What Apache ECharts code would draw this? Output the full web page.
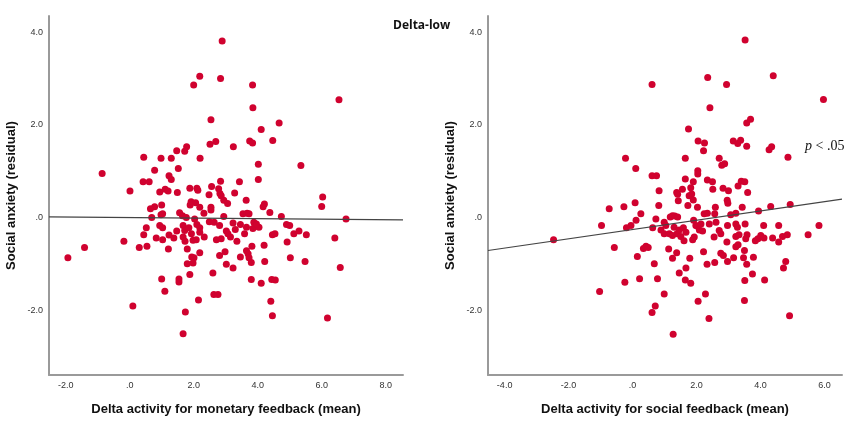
<!DOCTYPE html>
<html>
<head>
<meta charset="utf-8">
<script src="https://cdn.jsdelivr.net/npm/echarts@6/dist/echarts.min.js"></script>
<style>html,body{margin:0;padding:0;background:#fff}#c{width:850px;height:421px}</style>
</head>
<body>
<div id="c"></div>
<script>
const chartTitle = 'Delta-low';
const yAxisName = 'Social anxiety (residual)';
const xNameMonetary = 'Delta activity for monetary feedback (mean)';
const xNameSocial = 'Delta activity for social feedback (mean)';
const xTicksMonetary = [-2, 0, 2, 4, 6, 8];
const xTicksSocial = [-4, -2, 0, 2, 4, 6];
const yTicks = [-2, 0, 2, 4];
const xRangeMonetary = [-2.52, 8.54];
const xRangeSocial = [-4.52, 6.55];
const yRange = [-3.4, 4.35];
// fit lines: [intercept, slope]
const fitMonetary = [0.0, -0.006];
const fitSocial = [-0.26, 0.10];
const pLabel = '< .05';

const monetaryPoints = [
[2.89,3.81],[2.19,3.05],[2.0,2.86],[2.84,3.0],[3.84,2.86],[6.54,2.54],[3.85,2.37],[2.54,2.11],[4.67,2.04],[4.11,1.90],
[2.51,1.58],[2.69,1.64],[3.75,1.65],[3.84,1.61],[4.47,1.66],[3.24,1.53],[1.78,1.53],[1.72,1.43],[1.47,1.44],[0.44,1.30],
[0.98,1.28],[1.30,1.28],[2.20,1.28],[4.02,1.15],[5.35,1.12],[0.78,1.02],[1.52,1.06],[-0.86,0.95],[1.23,0.90],[1.30,0.82],
[0.42,0.77],[0.61,0.77],[2.84,0.78],[3.43,0.77],[4.02,0.82],[2.56,0.67],[1.88,0.63],[2.10,0.63],[2.13,0.59],[2.78,0.62],
[0.01,0.57],[0.94,0.55],[1.11,0.61],[1.20,0.57],[1.49,0.54],[3.28,0.53],[2.82,0.52],[2.86,0.47],[2.48,0.49],[6.03,0.44],
[3.64,0.37],[2.94,0.37],[3.06,0.30],[1.92,0.34],[2.06,0.32],[1.89,0.27],[2.19,0.22],[2.54,0.22],[4.21,0.29],[4.17,0.23],
[1.0,0.27],[0.78,0.23],[0.65,0.19],[6.0,0.24],
[2.54,0.16],[0.69,0.0],[0.98,0.06],[1.03,0.08],[1.56,0.10],[1.65,0.04],[1.77,0.0],[2.03,-0.03],[2.32,0.09],[2.49,-0.09],
[2.64,-0.10],[2.94,0.02],[3.23,-0.12],[3.46,-0.15],[3.54,0.08],[3.67,0.09],[3.73,0.08],[4.38,0.11],[4.74,0.02],[6.76,-0.03],
[0.52,-0.22],[0.44,-0.37],[0.94,-0.17],[1.03,-0.22],[0.83,-0.44],[1.03,-0.48],[1.23,-0.38],[1.38,-0.44],[1.47,-0.29],[1.67,-0.17],
[1.72,-0.28],[1.67,-0.42],[1.73,-0.51],[1.85,-0.22],[1.93,-0.35],[1.98,-0.49],[2.1,-0.15],[2.19,-0.22],[2.19,-0.32],[2.08,-0.48],
[2.33,-0.42],[2.71,-0.48],[2.81,-0.17],[2.86,-0.46],[3.02,-0.29],[3.07,-0.35],[3.15,-0.42],[3.35,-0.51],[3.30,-0.26],[3.59,-0.35],
[3.65,-0.21],[3.85,-0.24],[3.94,-0.19],[4.04,-0.21],[3.88,-0.10],[3.96,-0.14],[3.82,-0.62],[4.2,-0.6],[4.46,-0.37],[4.54,-0.35],
[4.9,-0.15],[5.0,-0.17],[4.92,-0.53],[5.13,-0.35],[5.29,-0.29],[5.52,-0.37],[6.41,-0.44],[-0.18,-0.51],[-1.41,-0.65],[-1.93,-0.87],
[0.30,-0.65],[0.54,-0.62],[1.21,-0.68],[1.80,-0.68],[2.19,-0.76],[2.81,-0.82],[2.98,-0.74],[1.94,-0.85],[2.01,-0.87],[1.80,-1.0],
[1.98,-0.98],[3.02,-1.01],[3.23,-1.09],[3.46,-0.85],[3.65,-0.72],[3.7,-0.78],[3.73,-0.87],[3.80,-0.97],[4.22,-0.95],[5.02,-0.87],
[5.48,-0.95],[6.58,-1.08],[1.0,-1.33],[1.1,-1.59],[1.54,-1.33],[1.54,-1.39],[1.88,-1.23],[2.60,-1.20],[2.63,-1.66],[2.76,-1.66],
[3.80,-1.34],[4.11,-1.42],[4.44,-1.34],[4.55,-1.35],[0.10,-1.91],[2.15,-1.78],[4.41,-1.81],[1.74,-2.04],[4.46,-2.12],[6.18,-2.17],
[1.67,-2.51]
];

const socialPoints = [
[3.52,3.83],[2.35,3.02],[2.94,2.87],[4.40,3.06],[0.61,2.87],[5.97,2.55],[2.42,2.37],[3.57,2.04],[3.69,2.12],[1.75,1.91],
[2.05,1.65],[2.25,1.61],[2.22,1.44],[3.15,1.65],[3.29,1.60],[3.38,1.67],[3.57,1.54],[4.27,1.46],[4.35,1.53],[4.86,1.30],
[-0.22,1.28],[0.10,1.06],[1.65,1.28],[2.71,1.28],[2.79,1.13],[2.88,1.16],[0.61,0.90],[0.75,0.90],[2.04,1.01],[2.04,0.94],
[1.65,0.83],[1.90,0.77],[2.34,0.81],[2.5,0.77],[3.40,0.78],[3.51,0.77],[0.83,0.58],[1.38,0.54],[1.41,0.50],[1.56,0.61],
[1.82,0.64],[1.77,0.47],[1.85,0.51],[2.51,0.61],[2.83,0.63],[3.0,0.58],[3.30,0.68],[3.60,0.54],[1.90,0.38],[1.43,0.36],
[2.96,0.37],[2.98,0.31],[-0.73,0.19],[-0.27,0.23],[0.08,0.32],[0.82,0.26],[1.73,0.26],[2.03,0.22],[2.59,0.22],[3.43,0.22],
[4.32,0.24],[4.93,0.28],
[-0.97,-0.17],[0.26,0.08],[0.11,-0.06],[-0.05,-0.17],[-0.19,-0.22],[0.73,-0.03],[-2.47,-0.48],[-0.57,-0.65],[0.34,-0.67],[0.42,-0.62],
[0.49,-0.65],[0.63,-0.22],[0.89,-0.27],[0.99,-0.10],[1.04,-0.17],[0.99,-0.35],[1.18,0.01],[1.25,0.04],[1.32,0.03],[1.41,0.01],
[1.15,-0.35],[1.25,-0.39],[1.39,-0.35],[1.51,-0.41],[1.61,-0.50],[1.30,-0.21],[1.46,-0.27],[1.59,-0.22],[1.67,-0.32],[1.91,-0.06],
[1.98,-0.17],[1.93,-0.42],[1.88,-0.48],[2.03,-0.19],[2.09,-0.27],[2.14,-0.14],[2.19,-0.29],[2.24,0.08],[2.34,0.09],[2.40,-0.14],
[2.57,0.08],[2.61,-0.10],[2.55,-0.42],[2.71,-0.28],[2.76,-0.35],[2.95,-0.53],[2.97,-0.17],[3.07,0.06],[3.23,0.09],[3.23,-0.14],
[3.28,-0.21],[3.23,-0.41],[3.33,-0.37],[3.23,-0.63],[3.30,-0.59],[3.52,-0.14],[3.58,-0.37],[3.54,-0.46],[3.84,-0.50],[3.92,-0.46],
[3.94,0.14],[4.01,-0.39],[4.11,-0.44],[4.10,-0.17],[4.38,-0.44],[4.57,-0.17],[4.57,-0.53],[4.69,-0.41],[4.84,-0.37],[5.49,-0.37],
[5.83,-0.17],[0.15,-0.84],[1.13,-0.68],[1.38,-0.76],[2.22,-0.74],[0.68,-1.0],[1.25,-0.88],[1.79,-0.88],[2.33,-1.01],[2.57,-0.97],
[2.76,-0.77],[2.84,-0.82],[2.97,-0.95],[3.16,-0.87],[3.47,-0.87],[3.57,-1.01],[3.78,-0.86],[3.50,-0.71],[4.79,-0.95],[4.72,-1.09],
[1.46,-1.20],[1.67,-1.09],[3.75,-1.22],[-0.24,-1.40],[0.22,-1.32],[0.78,-1.32],[1.65,-1.35],[1.82,-1.42],[3.51,-1.36],[4.13,-1.35],
[-1.03,-1.60],[0.99,-1.65],[2.28,-1.65],[2.05,-1.81],[3.50,-1.79],[0.71,-1.91],[0.61,-2.05],[2.39,-2.18],[4.91,-2.12],[1.27,-2.52]
];

function fmt(v){ return v === 0 ? '.0' : v.toFixed(1); }
function fitEnds(fit, range){ return range.map(x => [x, fit[0] + fit[1]*x]); }

const dotColor = '#d0022f';
const axisLineStyle = { color: '#9a9a9a', width: 2 };
const tickLabel = { color: '#333', fontSize: 9, fontFamily: 'Liberation Sans, Arial, sans-serif' };
const nameStyle = { color: '#111', fontSize: 13, fontWeight: 'bold', fontFamily: 'Liberation Sans, Arial, sans-serif' };

function xAxis(idx, range, ticks, name){
  return {
    type: 'value', gridIndex: idx, min: range[0], max: range[1],
    name: name, nameLocation: 'middle', nameGap: 28, nameTextStyle: nameStyle,
    axisLine: { show: true, onZero: false, lineStyle: axisLineStyle },
    axisTick: { show: false },
    splitLine: { show: false },
    axisLabel: Object.assign({ customValues: ticks, formatter: fmt, margin: 6 }, tickLabel)
  };
}
function yAxis(idx){
  return {
    type: 'value', gridIndex: idx, min: yRange[0], max: yRange[1],
    name: yAxisName, nameLocation: 'middle', nameGap: 31, nameTextStyle: nameStyle,
    axisLine: { show: true, onZero: false, lineStyle: axisLineStyle },
    axisTick: { show: false },
    splitLine: { show: false },
    axisLabel: Object.assign({ customValues: yTicks, formatter: fmt, margin: 6 }, tickLabel)
  };
}

const chart = echarts.init(document.getElementById('c'), null, { renderer: 'canvas' });
chart.setOption({
  backgroundColor: '#fff',
  animation: false,
  grid: [
    { left: 49, top: 16, width: 354, height: 359 },
    { left: 488, top: 16, width: 354, height: 359 }
  ],
  xAxis: [ xAxis(0, xRangeMonetary, xTicksMonetary, xNameMonetary), xAxis(1, xRangeSocial, xTicksSocial, xNameSocial) ],
  yAxis: [ yAxis(0), yAxis(1) ],
  series: [
    { type: 'scatter', xAxisIndex: 0, yAxisIndex: 0, data: monetaryPoints, symbolSize: 7, itemStyle: { color: dotColor, opacity: 1 }, z: 2 },
    { type: 'scatter', xAxisIndex: 1, yAxisIndex: 1, data: socialPoints, symbolSize: 7, itemStyle: { color: dotColor, opacity: 1 }, z: 2 },
    { type: 'line', xAxisIndex: 0, yAxisIndex: 0, data: fitEnds(fitMonetary, xRangeMonetary), symbol: 'none', lineStyle: { color: '#444', width: 1.2 }, z: 3 },
    { type: 'line', xAxisIndex: 1, yAxisIndex: 1, data: fitEnds(fitSocial, xRangeSocial), symbol: 'none', lineStyle: { color: '#444', width: 1.2 }, z: 3 }
  ],
  graphic: [
    { type: 'text', left: 393, top: 20, style: { text: chartTitle, font: 'bold 12px "Open Sans", "Liberation Sans", sans-serif', fill: '#111' } },
    { type: 'text', left: 805, top: 139, style: {
        text: '{i|p} ' + pLabel,
        font: '14px "Liberation Serif", "Times New Roman", serif', fill: '#111',
        rich: { i: { fontStyle: 'italic', fontFamily: 'Liberation Serif', fontSize: 14, fill: '#111' } }
    } }
  ]
});
</script>
</body>
</html>
